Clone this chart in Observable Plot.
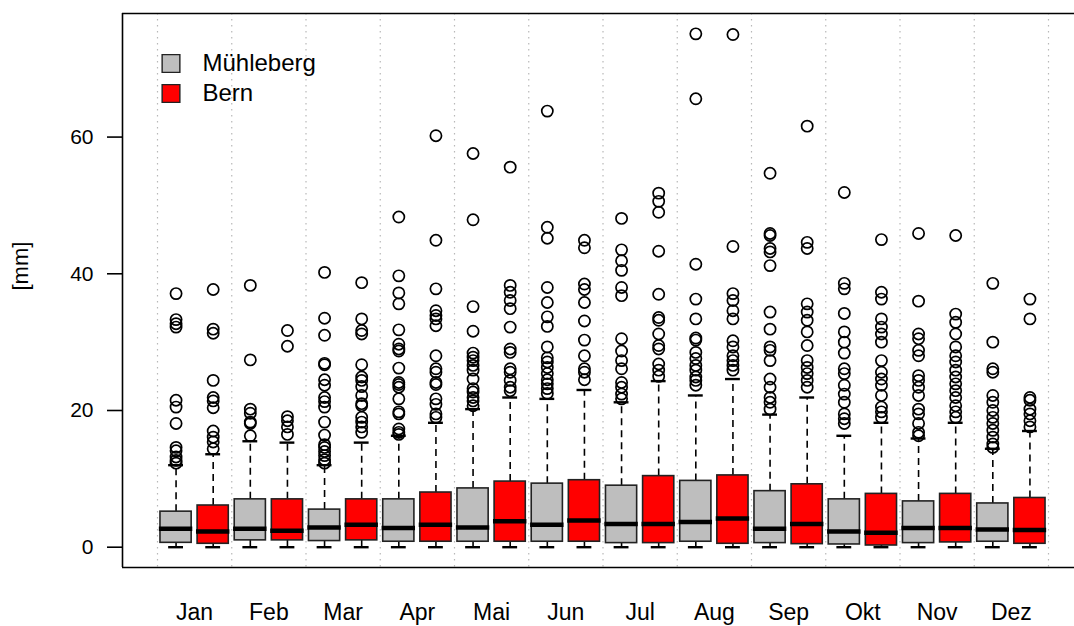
<!DOCTYPE html>
<html>
<head>
<meta charset="utf-8">
<script src="https://cdn.jsdelivr.net/npm/d3@7"></script>
<script src="https://cdn.jsdelivr.net/npm/@observablehq/plot@0.6"></script>
<style>
  html, body { margin: 0; padding: 0; background: #fff; overflow: hidden; }
  #chart svg { display: block; }
</style>
</head>
<body>
<div id="chart"></div>
<script>
const months = ["Jan","Feb","Mar","Apr","Mai","Jun","Jul","Aug","Sep","Okt","Nov","Dez"];
const stations = ["Mühleberg", "Bern"];
const stationColors = ["#bebebe", "#ff0000"];
const yTicks = [0, 20, 40, 60];

// Mühleberg
const loM  = [0,0,0,0,0,0,0,0,0,0,0,0];
const q1M  = [0.64,1.0,0.9,0.8,0.8,0.8,0.6,0.8,0.6,0.4,0.6,0.8];
const medM = [2.7,2.7,2.9,2.8,2.9,3.3,3.4,3.7,2.7,2.3,2.8,2.6];
const q3M  = [5.2,7.0,5.5,7.0,8.6,9.3,9.0,9.7,8.2,7.0,6.7,6.4];
const hiM  = [12.0,15.5,12.0,16.3,20.2,21.7,21.2,22.2,19.4,16.3,15.9,14.4];
const outM = [
  [37.1,33.3,32.7,32.2,21.5,20.5,18.1,14.6,14.1,13.2,12.7,12.3],
  [38.3,27.4,20.2,19.6,18.3,18.1,16.3],
  [40.2,33.5,31.0,26.9,26.7,24.5,23.7,21.9,21.3,20.5,18.3,16.4,15.0,14.6,14.0,13.4,12.8,12.3],
  [48.3,39.7,37.2,35.6,31.8,29.7,29.0,28.7,26.2,24.1,23.8,23.4,21.7,19.8,19.5,17.3,16.8,16.5],
  [57.6,47.9,35.2,31.6,28.4,27.8,27.3,26.6,25.9,24.6,23.2,22.7,21.9,21.4,20.7],
  [63.8,46.8,45.2,38.0,35.8,33.7,32.3,29.3,27.7,27.1,26.3,25.4,24.5,23.9,23.2,22.5],
  [48.1,43.5,41.9,40.5,38.0,36.8,30.5,28.7,27.3,26.1,24.1,23.4,22.4,21.7],
  [75.1,65.6,41.4,36.3,33.4,30.6,30.3,28.5,27.6,26.6,25.9,24.9,24.4,23.7],
  [54.7,45.9,45.6,43.7,43.2,41.2,34.4,31.9,29.3,28.8,27.3,24.6,23.4,21.9,21.2,20.2],
  [51.9,38.6,37.8,34.2,31.5,30.0,28.4,26.1,25.4,23.7,22.4,21.2,19.5,18.8,18.1],
  [45.9,36.0,31.2,30.5,28.8,28.0,25.1,24.4,23.4,22.2,20.2,19.5,18.1,16.8,16.3],
  [38.6,30.0,26.1,25.6,22.2,21.2,20.0,19.0,18.1,17.1,16.1,15.1,14.6]
];

// Bern
const loB  = [0,0,0,0,0,0,0,0,0,0,0,0];
const q1B  = [0.5,1.0,1.0,0.8,0.8,0.8,0.6,0.5,0.45,0.25,0.7,0.5];
const medB = [2.3,2.4,3.3,3.3,3.8,3.9,3.4,4.2,3.4,2.1,2.8,2.5];
const q3B  = [6.1,7.0,7.0,8.0,9.6,9.8,10.4,10.5,9.2,7.8,7.8,7.2];
const hiB  = [13.6,15.3,15.3,18.2,21.9,23.0,24.3,24.6,21.9,18.2,18.2,17.0];
const outB = [
  [37.7,31.9,31.3,24.4,21.9,21.4,20.4,17.0,16.1,15.4,14.4],
  [31.7,29.4,19.1,18.5,17.6,16.5],
  [38.7,33.4,31.7,31.2,26.7,24.9,24.4,23.5,22.2,21.0,20.7,19.0,18.3,17.6,16.8],
  [60.2,44.9,37.8,34.6,33.9,33.4,32.4,28.0,26.1,25.6,24.1,23.8,21.7,20.9,19.5,19.0],
  [55.6,38.3,37.3,36.1,34.9,32.2,29.0,28.5,26.1,25.6,24.4,23.4,22.9],
  [44.9,43.8,38.5,37.7,35.8,33.1,30.3,28.0,26.1,25.6,24.5],
  [51.8,50.6,49.0,43.3,37.0,33.6,33.2,31.2,29.5,29.0,26.8,25.9,25.0],
  [75.0,44.0,37.1,36.1,34.6,33.4,30.2,29.3,28.0,27.3,26.6,25.9],
  [61.6,44.6,43.7,35.6,34.4,33.2,31.5,29.5,27.3,26.3,25.4,24.4,23.4],
  [45.0,37.3,36.3,33.4,32.2,31.2,30.0,27.3,25.6,24.6,23.7,22.2,20.5,19.8,19.0],
  [45.6,34.1,32.9,31.2,29.3,28.0,27.1,25.9,24.9,23.9,22.9,21.9,20.7,19.8,19.0],
  [36.3,33.4,21.9,21.5,20.2,19.5,18.5,17.6]
];

// ---- build tables ----
const stats = [
  {lo: loM, q1: q1M, med: medM, q3: q3M, hi: hiM, out: outM},
  {lo: loB, q1: q1B, med: medB, q3: q3B, hi: hiB, out: outB}
];
const offset = [-0.25, 0.25];
const halfBox = 0.21, halfCap = 0.1, halfMed = 0.225;

const boxes = [];
const outliers = [];
stats.forEach((s, si) => {
  months.forEach((m, mi) => {
    const xc = mi + 0.5 + offset[si];
    boxes.push({station: stations[si], month: m, xc,
      lo: s.lo[mi], q1: s.q1[mi], med: s.med[mi], q3: s.q3[mi], hi: s.hi[mi]});
    s.out[mi].forEach(v => outliers.push({station: stations[si], month: m, xc, v}));
  });
});

const W = 1074, H = 626;
const mL = 122, mT = 13, mB = H - 567, mR = 0;
const xDomain = [-35 / 74.25, (W - 157) / 74.25];
const yDomain = [-2.97, 78.08];

const plot = Plot.plot({
  width: W, height: H,
  marginLeft: mL, marginTop: mT, marginBottom: mB, marginRight: mR,
  style: {fontFamily: "'Liberation Sans', Arial, sans-serif", fontSize: "20px", color: "#000", background: "#fff"},
  x: {type: "linear", domain: xDomain,
      ticks: months.map((_, i) => i + 0.5),
      tickFormat: d => months[Math.floor(d)],
      tickSize: 0, tickPadding: 36, label: null},
  y: {domain: yDomain, ticks: yTicks, tickSize: 15, tickPadding: 14, label: null},
  color: {domain: stations, range: stationColors},
  marks: [
    Plot.ruleX(d3.range(13), {stroke: "#b8b8b8", strokeDasharray: "1.5,4.5", strokeWidth: 1.2}),
    // whiskers
    Plot.ruleX(boxes, {x: "xc", y1: "q3", y2: "hi", stroke: "#000", strokeWidth: 1.6, strokeDasharray: "7,5"}),
    Plot.ruleX(boxes, {x: "xc", y1: "lo", y2: "q1", stroke: "#000", strokeWidth: 1.6, strokeDasharray: "7,5"}),
    Plot.ruleY(boxes, {y: "hi", x1: d => d.xc - halfCap, x2: d => d.xc + halfCap, stroke: "#000", strokeWidth: 2.4}),
    Plot.ruleY(boxes, {y: "lo", x1: d => d.xc - halfCap, x2: d => d.xc + halfCap, stroke: "#000", strokeWidth: 2.4}),
    // boxes
    Plot.rectY(boxes, {x1: d => d.xc - halfBox, x2: d => d.xc + halfBox, y1: "q1", y2: "q3",
      fill: "station", stroke: "#222", strokeWidth: 1.6}),
    Plot.ruleY(boxes, {y: "med", x1: d => d.xc - halfMed, x2: d => d.xc + halfMed, stroke: "#000", strokeWidth: 4.5}),
    // outliers
    Plot.dot(outliers, {x: "xc", y: "v", r: 5.6, stroke: "#000", strokeWidth: 1.7, fill: "none"}),
    // frame (left, top, bottom)
    Plot.ruleX([xDomain[0]], {stroke: "#000", strokeWidth: 1.6}),
    Plot.ruleY([yDomain[0], yDomain[1]], {stroke: "#000", strokeWidth: 1.6}),
    // legend
    ...stations.map((s, i) => Plot.dot([s], {frameAnchor: "top-left", dx: 48.5, dy: 50 + 30 * i,
      symbol: "square", r: 10, fill: stationColors[i], stroke: "#222", strokeWidth: 1.4})),
    ...stations.map((s, i) => Plot.text([s], {text: d => d, frameAnchor: "top-left", dx: 80, dy: 50 + 30 * i,
      textAnchor: "start", lineAnchor: "middle", fontSize: 24, fill: "#000"})),
    // y label
    Plot.text(["[mm]"], {text: d => d, frameAnchor: "left", dx: -102, rotate: -90, fontSize: 22, fill: "#000"})
  ]
});

// axis font tweaks
d3.select(plot).selectAll('g[aria-label^="x-axis"] text').style("font-size", "23px");
d3.select(plot).selectAll('g[aria-label^="y-axis"] text').style("font-size", "21px");
d3.select(plot).selectAll('g[aria-label^="y-axis"]').attr("stroke-width", 1.6);

document.getElementById("chart").appendChild(plot);
</script>
</body>
</html>
